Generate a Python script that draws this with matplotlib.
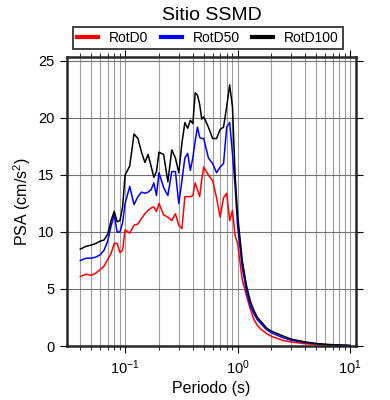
import numpy as np
import matplotlib
matplotlib.use('Agg')
import matplotlib.pyplot as plt

plt.rcParams['font.family'] = ['Liberation Sans', 'DejaVu Sans']
plt.rcParams['mathtext.fontset'] = 'custom'
plt.rcParams['mathtext.rm'] = 'Liberation Sans'
plt.rcParams['mathtext.it'] = 'Liberation Sans:italic'

# Periodos (s)
periods = [0.04, 0.045, 0.05, 0.055, 0.06, 0.065, 0.07, 0.075, 0.08, 0.085,
           0.09, 0.095, 0.1, 0.11, 0.12, 0.13, 0.14, 0.15, 0.16, 0.17,
           0.18, 0.19, 0.2, 0.22, 0.24, 0.26, 0.28, 0.3, 0.32, 0.34,
           0.36, 0.38, 0.4, 0.42, 0.44, 0.46, 0.48, 0.5, 0.55, 0.6,
           0.65, 0.7, 0.75, 0.8, 0.85, 0.9, 0.95, 1.0, 1.1, 1.2,
           1.3, 1.4, 1.5, 1.6, 1.8, 2.0, 2.5, 3.0, 4.0, 5.0,
           6.0, 7.5, 10.0]

rotd0 = [6.1, 6.3, 6.2, 6.4, 6.7, 7.0, 7.6, 8.1, 9.0, 9.0,
         8.2, 8.4, 10.2, 9.9, 10.6, 10.7, 11.2, 11.6, 11.9, 12.1,
         12.2, 11.8, 12.5, 11.5, 11.3, 11.0, 11.6, 10.6, 10.3, 13.1,
         13.1, 13.1, 13.2, 14.3, 13.7, 13.1, 14.6, 15.7, 15.0, 14.5,
         13.0, 11.3, 13.0, 13.4, 11.0, 11.9, 9.7, 9.0, 5.8, 4.4,
         3.2, 2.3, 1.8, 1.5, 1.1, 0.85, 0.5, 0.35, 0.2, 0.13,
         0.09, 0.06, 0.03]

rotd50 = [7.5, 7.7, 7.7, 7.8, 8.0, 8.4, 9.2, 10.5, 11.5, 10.0,
          10.0, 10.8, 12.5, 14.0, 12.4, 13.1, 13.5, 13.4, 13.5, 13.7,
          14.3, 13.2, 15.2, 13.9, 13.2, 15.3, 15.3, 12.5, 14.5, 16.5,
          16.9, 15.4, 16.5, 18.0, 19.2, 18.3, 18.2, 18.2, 16.5, 16.0,
          15.2, 15.7, 16.0, 19.2, 19.6, 16.9, 14.0, 10.5, 6.9, 4.8,
          3.5, 2.8, 2.3, 2.0, 1.45, 1.15, 0.75, 0.5, 0.3, 0.2,
          0.13, 0.08, 0.04]

rotd100 = [8.5, 8.75, 8.85, 9.0, 9.2, 9.3, 9.8, 11.0, 11.8, 10.9,
           11.0, 12.2, 15.0, 15.8, 18.6, 18.2, 17.0, 16.1, 16.8, 15.8,
           14.8, 15.3, 17.0, 16.8, 14.4, 17.2, 16.5, 15.2, 17.8, 19.6,
           19.1, 19.8, 19.5, 22.2, 22.0, 21.2, 19.9, 20.1, 19.2, 18.2,
           18.2, 19.0, 19.2, 21.0, 22.9, 21.0, 15.0, 11.5, 7.5, 5.3,
           3.9, 3.1, 2.5, 2.2, 1.6, 1.3, 0.9, 0.6, 0.35, 0.22,
           0.15, 0.1, 0.05]

fig = plt.figure(figsize=(3.9, 4.0), dpi=100)
ax = fig.add_axes([0.172, 0.135, 0.741, 0.7225])

ax.plot(periods, rotd0, color='red', lw=1.1, label='RotD0')
ax.plot(periods, rotd50, color='blue', lw=1.1, label='RotD50')
ax.plot(periods, rotd100, color='black', lw=1.1, label='RotD100')

ax.set_xscale('log')
ax.set_xlim(0.0305, 11.3)
ax.set_ylim(0, 25.35)
ax.set_yticks([0, 5, 10, 15, 20, 25])

ax.grid(which='both', axis='x', color='0.62', lw=0.8)
ax.grid(which='major', axis='y', color='0.45', lw=0.8)
ax.set_axisbelow(True)

for s in ax.spines.values():
    s.set_linewidth(1.8)
    s.set_color('0.15')
ax.tick_params(which='major', direction='out', length=5, width=0.8,
               labelsize=10.5, top=True, right=True, pad=4)
ax.tick_params(which='minor', direction='out', length=3, width=0.6,
               top=True, right=False)
ax.tick_params(axis='y', which='minor', left=False, right=False)

ax.set_xlabel('Periodo (s)', fontsize=11.5, labelpad=3)
ax.set_ylabel('PSA (cm/s$^2$)', fontsize=11.5, labelpad=4)

fig.text(211.5 / 390, 1 - 15 / 400, 'Sitio SSMD', ha='center', va='center',
         fontsize=14)

leg = ax.legend(loc='lower left', bbox_to_anchor=(0.02, 1.028, 0.935, 0.07),
                mode='expand', ncol=3, fontsize=10, frameon=True,
                fancybox=False, edgecolor='black', handlelength=1.5,
                handletextpad=0.8, borderpad=0.3, borderaxespad=0)
leg.get_frame().set_linewidth(1.3)
for h in leg.legend_handles:
    h.set_linewidth(3)

fig.savefig('out.png', dpi=100)
